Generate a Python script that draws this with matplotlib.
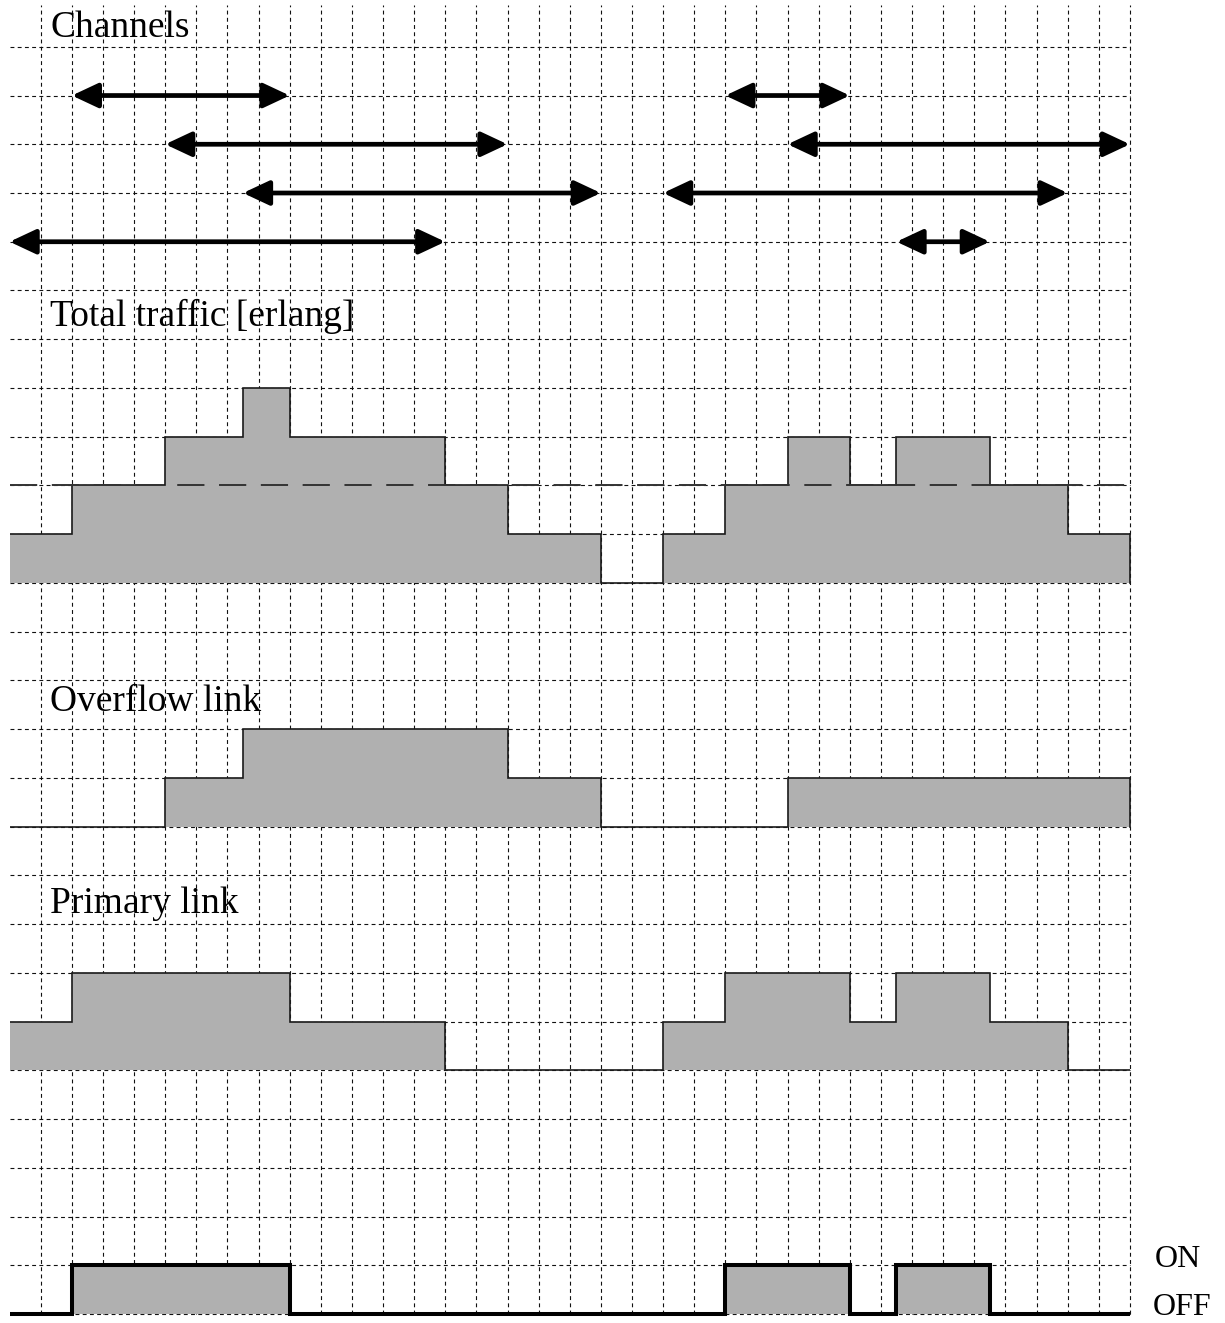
import numpy as np
import matplotlib
matplotlib.use("Agg")
import matplotlib.pyplot as plt
from matplotlib.patches import FancyArrowPatch

plt.rcParams["font.family"] = ["Liberation Serif", "DejaVu Serif"]

# calls: channel number, start and end time (grid units)
call_channel = [1, 1, 2, 2, 3, 3, 4, 4]
call_start = [1, 22, 4, 24, 6.5, 20, -1, 27.5]
call_end = [8, 26, 15, 35, 18, 33, 13, 30.5]

# time edges of the step curves
edges = [-1, 1, 4, 6.5, 8, 13, 15, 18, 20, 22, 24, 26, 27.5, 30.5, 33, 35]
total_traffic = [1, 2, 3, 4, 3, 2, 1, 0, 1, 2, 3, 2, 3, 2, 1]
overflow_link = [0, 0, 1, 2, 2, 2, 1, 0, 0, 0, 1, 1, 1, 1, 1]
primary_link = [1, 2, 2, 2, 1, 0, 0, 0, 1, 2, 2, 1, 2, 1, 0]
on_off = [0, 1, 1, 1, 0, 0, 0, 0, 0, 1, 1, 0, 1, 0, 0]
primary_capacity = 2

gray = "#b0b0b0"
edge = "#1a1a1a"

fig = plt.figure(figsize=(12.25, 13.23), dpi=100)
ax = fig.add_axes([0, 0, 1, 1])
ax.set_xlim(-1.308, 38.056)
ax.set_ylim(-0.185, 26.96)
ax.axis("off")

# dotted grid
for r in range(27):
    ax.plot([-1, 35], [r, r], color="#111111", lw=0.8, ls=(0, (3.5, 3)), zorder=1)
for c in range(36):
    ax.plot([c, c], [0, 26.85], color="#111111", lw=0.8, ls=(0, (3.5, 3)), zorder=1)

# channels (arrows)
for ch, s, e in zip(call_channel, call_start, call_end):
    y = 26 - ch
    arr = FancyArrowPatch((s, y), (e, y),
                          arrowstyle="<|-|>,head_length=1.6,head_width=0.75",
                          mutation_scale=10, lw=3.4, color="black",
                          shrinkA=0, shrinkB=0, zorder=5)
    ax.add_patch(arr)


def step_panel(levels, base):
    vals = np.array(levels) + base
    ax.stairs(vals, edges, baseline=base, fill=True, color=gray, zorder=2)
    ax.stairs(vals, edges, baseline=None, color=edge, lw=1.2, zorder=3)
    ax.plot([edges[-1], edges[-1]], [base, vals[-1]], color=edge, lw=1.2, zorder=3)


step_panel(total_traffic, 15)
ax.plot([-1, 35], [15 + primary_capacity] * 2, color="#333333", lw=1.4,
        ls=(0, (14, 7.5)), zorder=4)
step_panel(overflow_link, 10)
step_panel(primary_link, 5)

# primary link full indicator
ax.stairs(on_off, edges, baseline=0, fill=True, color=gray, zorder=2)
ax.stairs(on_off, edges, baseline=None, color="black", lw=2.9, zorder=4)

fs = 27
ax.text(0.3, 26.2, "Channels", fontsize=fs, va="baseline", zorder=6)
ax.text(0.3, 20.28, "Total traffic [erlang]", fontsize=fs, va="baseline", zorder=6)
ax.text(0.3, 12.37, "Overflow link", fontsize=fs, va="baseline", zorder=6)
ax.text(0.3, 8.23, "Primary link", fontsize=fs, va="baseline", zorder=6)
ax.text(35.8, 0.97, "ON", fontsize=23, va="baseline")
ax.text(35.75, -0.03, "OFF", fontsize=23, va="baseline")

fig.savefig("out.png", dpi=100)
